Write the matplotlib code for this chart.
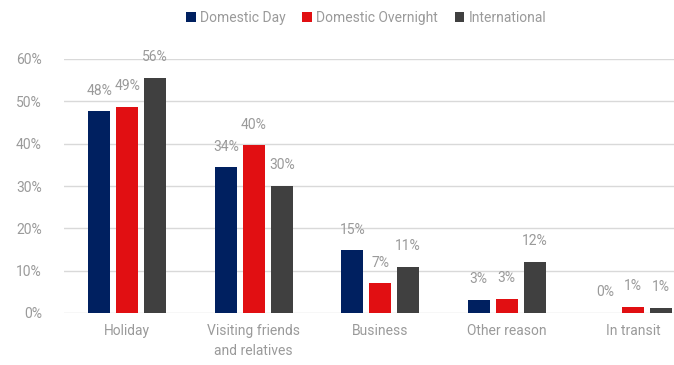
import matplotlib
matplotlib.use("Agg")
import matplotlib.pyplot as plt
import numpy as np

categories = ["Holiday", "Visiting friends\nand relatives", "Business", "Other reason", "In transit"]
series_names = ["Domestic Day", "Domestic Overnight", "International"]
domestic_day = [47.6, 34.4, 14.8, 3.0, 0.0]
domestic_overnight = [48.6, 39.6, 7.0, 3.4, 1.4]
international = [55.5, 30.0, 10.8, 12.1, 1.2]
yticks = [0, 10, 20, 30, 40, 50, 60]
colors = ["#002060", "#E10F12", "#404040"]

plt.rcParams['font.family'] = ['Roboto', 'DejaVu Sans']
txt = "#9a9a9a"

fig = plt.figure(figsize=(6.74, 3.65), dpi=100)
ax = fig.add_axes([64/674, 52/365, 610/674, 254/365])

x = np.arange(len(categories))
step = 0.221
width = 0.174
for i, (vals, name, c) in enumerate(zip([domestic_day, domestic_overnight, international], series_names, colors)):
    pos = x + (i - 1) * step
    ax.bar(pos, vals, width, color=c, label=name, zorder=3)
    for p, v in zip(pos, vals):
        ax.annotate(f"{v:.0f}%", (p, v), xytext=(0, 15), textcoords="offset points",
                    ha="center", va="center", fontsize=10, color=txt, annotation_clip=False)

ax.set_xlim(-0.5, -0.5 + 610/126.5)
ax.set_ylim(0, 60)
ax.set_yticks(yticks)
ax.set_yticklabels([f"{t}%" for t in yticks])
ax.set_xticks(x)
ax.set_xticklabels(categories, linespacing=1.55)
ax.tick_params(axis="both", length=0, colors=txt, labelsize=10)
ax.tick_params(axis="y", pad=16)
ax.tick_params(axis="x", pad=8)
ax.grid(axis="y", color="#d9d9d9", linewidth=1, zorder=0)
for s in ax.spines.values():
    s.set_visible(False)

leg = fig.legend(loc="center", bbox_to_anchor=(366/674, 1 - 18/365), ncol=3, frameon=False,
                 fontsize=10, handlelength=0.7, handleheight=0.7, handletextpad=0.3, columnspacing=1.2)
for t in leg.get_texts():
    t.set_color(txt)

fig.savefig("out.png", dpi=100)
